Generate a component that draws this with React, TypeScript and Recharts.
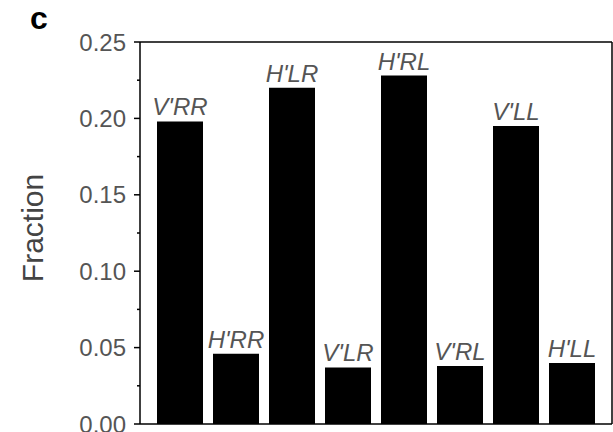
import { Bar, BarChart, LabelList, XAxis, YAxis } from "recharts";

const categories = ["V'RR", "H'RR", "H'LR", "V'LR", "H'RL", "V'RL", "V'LL", "H'LL"];
const fractions = [0.198, 0.046, 0.22, 0.037, 0.228, 0.038, 0.195, 0.04];
const yTicks = [0, 0.025, 0.05, 0.075, 0.1, 0.125, 0.15, 0.175, 0.2, 0.225, 0.25];

const data = categories.map((name, i) => ({ name, value: fractions[i] }));

const FONT = "'Liberation Sans', Arial, Helvetica, sans-serif";
const TICK = 6;
const MARGIN = 8;
const AXIS = { stroke: "#000", strokeWidth: 1.5 };

// major ticks get a label and a long tick, minor ones only a short tick
function YTick(props: any) {
  const { x, y, payload } = props;
  const v = payload.value as number;
  const major = Math.round(v * 1000) % 50 === 0;
  const axisX = x + TICK + MARGIN;
  return (
    <g>
      <line x1={axisX - (major ? TICK : 3)} x2={axisX} y1={y} y2={y} stroke="#000" strokeWidth={1.5} />
      {major && (
        <text x={x} y={y} dy="0.355em" textAnchor="end" fontSize={24} fill="#555" fontFamily={FONT}>
          {v.toFixed(2)}
        </text>
      )}
    </g>
  );
}

function YLabel() {
  return (
    <text
      x={43}
      y={228}
      transform="rotate(-90 43 228)"
      textAnchor="middle"
      fontSize={30}
      fill="#444"
      fontFamily={FONT}
    >
      Fraction
    </text>
  );
}

export default function App() {
  return (
    <div style={{ position: "absolute", left: 0, top: 0, width: 613, height: 432, background: "#fff" }}>
      <div
        style={{
          position: "absolute",
          left: 30,
          top: 0,
          fontFamily: FONT,
          fontWeight: "bold",
          fontSize: 32,
          lineHeight: "36px",
          color: "#000"
        }}
      >
        c
      </div>
      <BarChart width={613} height={432} data={data} margin={{ top: 41, right: 0, bottom: 7, left: 0 }}>
        <XAxis
          dataKey="name"
          height={1}
          tick={false}
          tickLine={false}
          padding={{ left: 12, right: 12 }}
          stroke="#000"
          axisLine={AXIS}
        />
        <XAxis
          xAxisId="top"
          dataKey="name"
          orientation="top"
          height={1}
          tick={false}
          tickLine={false}
          stroke="#000"
          axisLine={AXIS}
        />
        <YAxis
          width={140}
          domain={[0, 0.25]}
          ticks={yTicks}
          interval={0}
          tickSize={TICK}
          tickMargin={MARGIN}
          tickLine={false}
          tick={<YTick />}
          stroke="#000"
          axisLine={AXIS}
          label={<YLabel />}
        />
        <YAxis
          yAxisId="right"
          orientation="right"
          width={1}
          domain={[0, 0.25]}
          tick={false}
          tickLine={false}
          stroke="#000"
          axisLine={AXIS}
        />
        <Bar dataKey="value" fill="#000" barSize={46} isAnimationActive={false}>
          <LabelList
            dataKey="name"
            position="top"
            offset={6}
            fontSize={24}
            fontStyle="italic"
            fill="#555"
            fontFamily={FONT}
          />
        </Bar>
      </BarChart>
    </div>
  );
}
